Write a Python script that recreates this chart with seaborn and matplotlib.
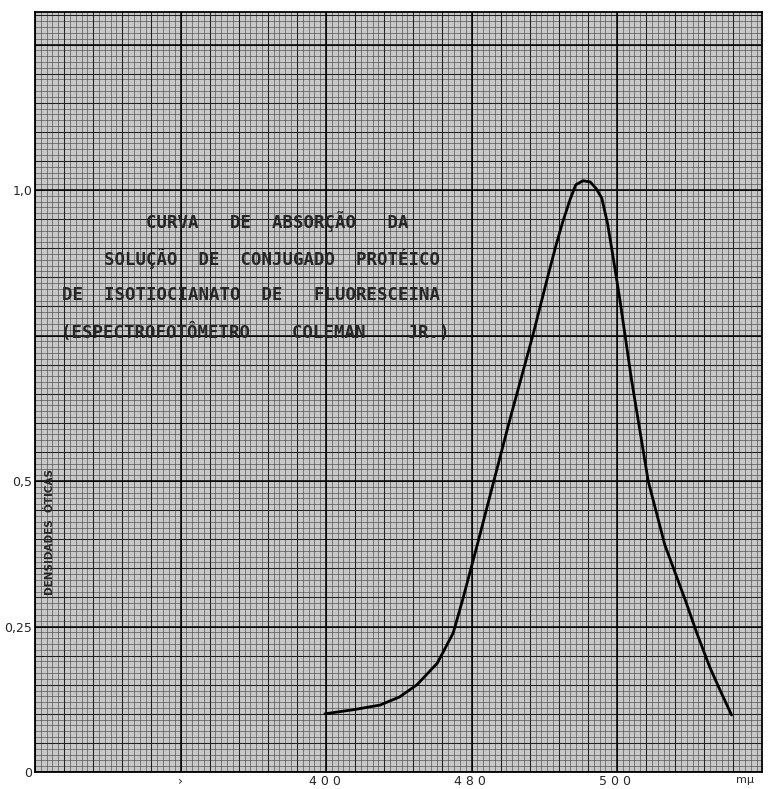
import numpy as np
import pandas as pd
import matplotlib
matplotlib.use("Agg")
import matplotlib.pyplot as plt
import seaborn as sns

# valores (comprimento de onda em m\u03bc, densidade otica)
comprimento = [460.0, 463.9, 467.6, 470.3, 472.7, 475.5, 477.7, 479.0, 481.2, 483.3,
               485.5, 488.7, 490.8, 491.9, 492.8, 493.8, 494.6, 495.6, 496.6, 497.4,
               498.2, 499.0, 499.6, 500.7, 502.3, 504.6, 506.9, 509.7, 511.3, 513.1,
               514.5, 516.1]
densidade = [0.100, 0.107, 0.115, 0.129, 0.150, 0.187, 0.239, 0.296, 0.399, 0.500,
             0.605, 0.751, 0.854, 0.906, 0.945, 0.983, 1.009, 1.016, 1.014, 1.003,
             0.986, 0.942, 0.897, 0.811, 0.674, 0.500, 0.390, 0.296, 0.239, 0.180,
             0.141, 0.098]

y_ticks = [0, 0.25, 0.5, 1.0]
y_tick_labels = ["0", "0,25", "0,5", "1,0"]
x_ticks = [440, 460, 480, 500]
x_tick_labels = ["\u203a", "4 0 0", "4 8 0", "5 0 0"]

titulo = ["CURVA   DE  ABSOR\u00c7\u00c3O   DA",
          "SOLU\u00c7\u00c3O  DE  CONJUGADO  PROT\u00c9ICO",
          "DE  ISOTIOCIANATO  DE   FLUORESCEINA",
          "(ESPECTROFOT\u00d4METRO    COLEMAN    JR.)"]

df = pd.DataFrame({"comprimento": comprimento, "densidade": densidade})

sns.set_style("white")
plt.rcParams["font.family"] = ["DejaVu Sans"]

fig = plt.figure(figsize=(7.71, 7.89), dpi=100)
pos = [35 / 771, 17 / 789, 727 / 771, 760 / 789]

# papel milimetrado (quadrado grande = 20 m\u03bc x 0,25)
paper = fig.add_axes(pos, zorder=0)
paper.set_facecolor("#c8c8c8")
px_w, px_h = 727 / 145.5, 760 / 145.5
paper.set_xlim(0, px_w)
paper.set_ylim(0, px_h)
fine = 1 / 25
for v in np.arange(0, px_w + 0.001, fine):
    paper.axvline(v, color="#4a4a4a", lw=0.45)
for h in np.arange(0, px_h + 0.001, fine):
    paper.axhline(h, color="#4a4a4a", lw=0.45)
for v in np.arange(0, px_w + 0.001, 0.2):
    paper.axvline(v, color="#202020", lw=0.75)
for h in np.arange(0, px_h + 0.001, 0.2):
    paper.axhline(h, color="#202020", lw=0.75)
for v in np.arange(0, px_w + 0.001, 1):
    paper.axvline(v, color="black", lw=1.1)
for h in np.arange(0, px_h + 0.001, 1):
    paper.axhline(h, color="black", lw=1.1)
paper.set_xticks([])
paper.set_yticks([])
for s in paper.spines.values():
    s.set_visible(False)

ax = fig.add_axes(pos, zorder=1)
ax.patch.set_alpha(0)
sns.lineplot(data=df, x="comprimento", y="densidade", color="black",
             linewidth=2.0, estimator=None, ax=ax)

ax.set_xlim(420, 520.3)
ax.set_ylim(0, 1.306)
ax.set_yticks(y_ticks)
ax.set_yticklabels(y_tick_labels, fontsize=9)
ax.set_xticks(x_ticks)
ax.set_xticklabels(x_tick_labels, fontsize=9)
ax.tick_params(length=0, pad=2)
ax.set_xlabel("")
ax.set_ylabel("")
for s in ax.spines.values():
    s.set_color("black")
    s.set_linewidth(1.3)

ax.text(0.977, -0.0105, "m\u03bc", transform=ax.transAxes, fontsize=8,
        ha="center", va="center")

ys = [0.724, 0.676, 0.628, 0.578]
xs = [0.333, 0.326, 0.297, 0.303]
for t, x, y in zip(titulo, xs, ys):
    ax.text(x, y, t, transform=ax.transAxes, fontsize=12.5, fontweight="bold",
            family="DejaVu Sans Mono", ha="center", va="center")

ax.text(0.02, 0.316, "DENSIDADES  \u00d3TICAS", transform=ax.transAxes,
        fontsize=7.5, fontweight="bold", rotation=90, ha="center", va="center")

fig.savefig("out.png", dpi=100)
